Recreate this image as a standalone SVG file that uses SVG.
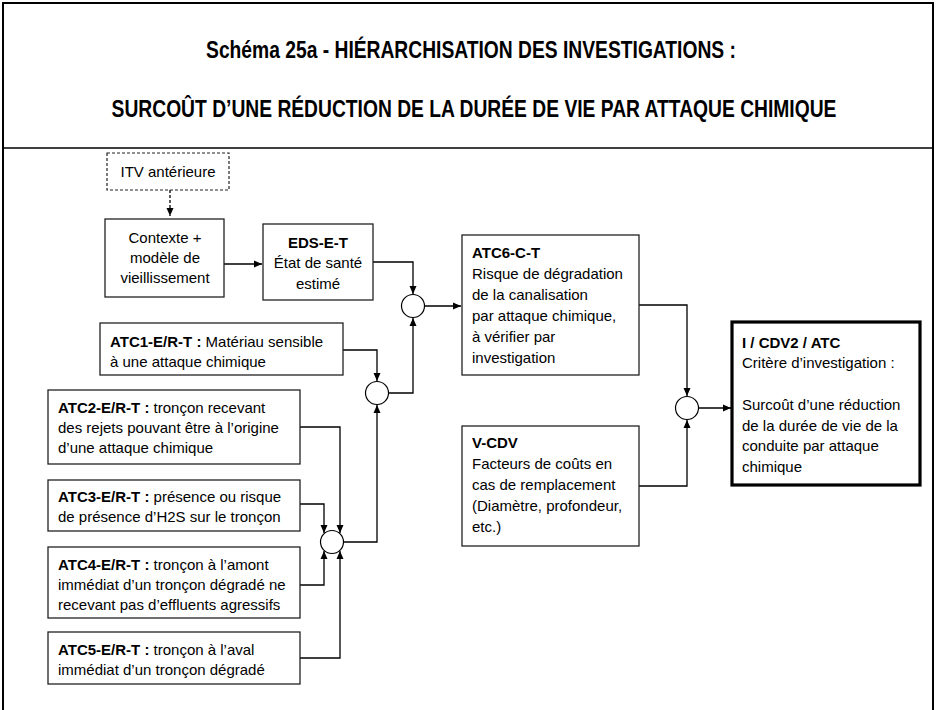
<svg xmlns="http://www.w3.org/2000/svg" width="936" height="710" viewBox="0 0 936 710">
<defs>
<marker id="ah" markerUnits="userSpaceOnUse" markerWidth="9" markerHeight="8" refX="8" refY="4" orient="auto">
<path d="M0,0.5 L8,4 L0,7.5 z" fill="#000"/>
</marker>
<style>
.box{fill:#fff;stroke:#222;stroke-width:1.3}
.dash{fill:#fff;stroke:#222;stroke-width:1.2;stroke-dasharray:3,2}
.thick{fill:#fff;stroke:#000;stroke-width:3.2}
.c{fill:#fff;stroke:#000;stroke-width:1.2}
.ar{fill:none;stroke:#000;stroke-width:1.3;marker-end:url(#ah)}
.da{fill:none;stroke:#000;stroke-width:1.3;stroke-dasharray:3,2;marker-end:url(#ah)}
text{font-family:"Liberation Sans",Arial,sans-serif;font-size:15px;fill:#000}
.t{font-size:23.5px;font-weight:bold;text-anchor:middle}
.m{text-anchor:middle}
.b{font-weight:bold}
</style>
</defs>
<rect x="0" y="0" width="936" height="710" fill="#fff"/>
<g id="frame">
<rect x="3" y="3" width="930" height="740" fill="none" stroke="#000" stroke-width="2"/>
<line x1="3" y1="148" x2="933" y2="148" stroke="#000" stroke-width="1.5"/>
<text class="t" transform="translate(471,58) scale(0.82,1)">Schéma 25a - HIÉRARCHISATION DES INVESTIGATIONS :</text>
<text class="t" transform="translate(474,117) scale(0.82,1)">SURCOÛT D’UNE RÉDUCTION DE LA DURÉE DE VIE PAR ATTAQUE CHIMIQUE</text>
</g>
<g id="connectors">
<path class="da" d="M170,190 V216"/>
<path class="ar" d="M224,264 H262"/>
<path class="ar" d="M373,262 H413 V294"/>
<path class="ar" d="M424.5,306 H461"/>
<path class="ar" d="M639,305 H687 V396"/>
<path class="ar" d="M698.5,408 H731"/>
<path class="ar" d="M639,486 H687 V420"/>
<path class="ar" d="M343,350 H377 V381"/>
<path class="ar" d="M388.5,393 H413 V318"/>
<path class="ar" d="M343.5,542 H377 V405"/>
<path class="ar" d="M300,427 H340 V533"/>
<path class="ar" d="M300,504 H324 V533"/>
<path class="ar" d="M300,585 H324 V551"/>
<path class="ar" d="M300,658 H340 V551"/>
</g>
<g id="itv">
<rect class="dash" x="107" y="153" width="122" height="37"/>
<text class="m" x="168" y="177">ITV antérieure</text>
</g>
<g id="contexte">
<rect class="box" x="105" y="219" width="119" height="78"/>
<text class="m" x="165" y="243">Contexte +</text>
<text class="m" x="165" y="263">modèle de</text>
<text class="m" x="165" y="283">vieillissement</text>
</g>
<g id="eds">
<rect class="box" x="263" y="224" width="110" height="76"/>
<text class="m b" x="318" y="248">EDS-E-T</text>
<text class="m" x="318" y="268">État de santé</text>
<text class="m" x="318" y="289">estimé</text>
</g>
<g id="j1"><circle class="c" cx="413" cy="306" r="11.5"/></g>
<g id="j2"><circle class="c" cx="377" cy="393" r="11.5"/></g>
<g id="j3"><circle class="c" cx="687" cy="408" r="11.5"/></g>
<g id="j4"><circle class="c" cx="332" cy="542" r="11.5"/></g>
<g id="atc6">
<rect class="box" x="462" y="235" width="177" height="140"/>
<text class="b" x="472" y="258">ATC6-C-T</text>
<text x="472" y="279">Risque de dégradation</text>
<text x="472" y="300">de la canalisation</text>
<text x="472" y="321">par attaque chimique,</text>
<text x="472" y="342">à vérifier par</text>
<text x="472" y="363">investigation</text>
</g>
<g id="vcdv">
<rect class="box" x="462" y="426" width="177" height="120"/>
<text class="b" x="472" y="448">V-CDV</text>
<text x="472" y="469">Facteurs de coûts en</text>
<text x="472" y="490">cas de remplacement</text>
<text x="472" y="511">(Diamètre, profondeur,</text>
<text x="472" y="532">etc.)</text>
</g>
<g id="icdv2">
<rect class="thick" x="732" y="322" width="188" height="163"/>
<text class="b" x="742" y="348">I / CDV2 / ATC</text>
<text x="742" y="368">Critère d’investigation :</text>
<text x="742" y="410">Surcoût d’une réduction</text>
<text x="742" y="431">de la durée de vie de la</text>
<text x="742" y="451">conduite par attaque</text>
<text x="742" y="472">chimique</text>
</g>
<g id="atc1">
<rect class="box" x="100" y="323" width="243" height="52"/>
<text x="110" y="347"><tspan class="b">ATC1-E/R-T :</tspan> Matériau sensible</text>
<text x="110" y="367">à une attaque chimique</text>
</g>
<g id="atc2">
<rect class="box" x="48" y="390" width="252" height="74"/>
<text x="58" y="413"><tspan class="b">ATC2-E/R-T :</tspan> tronçon recevant</text>
<text x="58" y="433">des rejets pouvant être à l’origine</text>
<text x="58" y="453">d’une attaque chimique</text>
</g>
<g id="atc3">
<rect class="box" x="48" y="480" width="252" height="51"/>
<text x="58" y="502"><tspan class="b">ATC3-E/R-T :</tspan> présence ou risque</text>
<text x="58" y="522">de présence d’H2S sur le tronçon</text>
</g>
<g id="atc4">
<rect class="box" x="48" y="547" width="252" height="71"/>
<text x="58" y="570"><tspan class="b">ATC4-E/R-T :</tspan> tronçon à l’amont</text>
<text x="58" y="590">immédiat d’un tronçon dégradé ne</text>
<text x="58" y="610">recevant pas d’effluents agressifs</text>
</g>
<g id="atc5">
<rect class="box" x="48" y="632" width="252" height="52"/>
<text x="58" y="655"><tspan class="b">ATC5-E/R-T :</tspan> tronçon à l’aval</text>
<text x="58" y="675">immédiat d’un tronçon dégradé</text>
</g>
</svg>
